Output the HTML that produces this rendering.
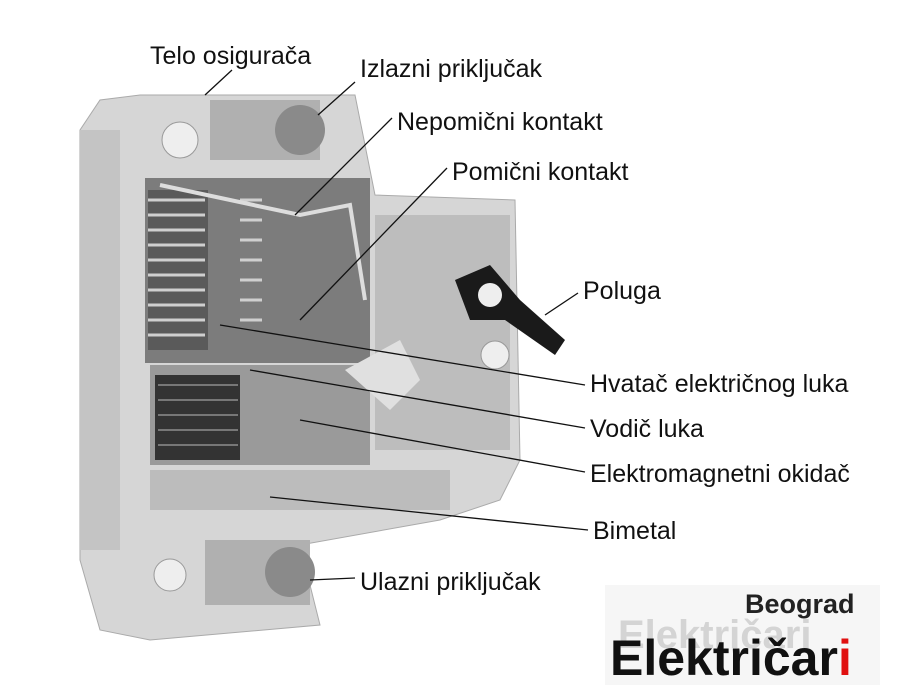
<!DOCTYPE html>
<html><head><meta charset="utf-8"><style>
body{margin:0;background:#fff;width:900px;height:700px;overflow:hidden}
svg{display:block}
text{font-family:"Liberation Sans",sans-serif;font-size:25px;fill:#111}
</style></head><body>
<svg width="900" height="700" viewBox="0 0 900 700">
<polygon points="80,130 100,100 140,95 355,95 375,195 515,200 520,460 500,500 440,520 300,545 320,625 150,640 100,630 80,560" fill="#d6d6d6" stroke="#aaa"/>
<rect x="80" y="130" width="40" height="420" fill="#c4c4c4"/>
<rect x="145" y="178" width="225" height="185" fill="#7c7c7c"/>
<rect x="148" y="190" width="60" height="160" fill="#5a5a5a"/>
<g stroke="#cfcfcf" stroke-width="3">
<line x1="148" y1="200" x2="205" y2="200"/><line x1="148" y1="215" x2="205" y2="215"/><line x1="148" y1="230" x2="205" y2="230"/><line x1="148" y1="245" x2="205" y2="245"/><line x1="148" y1="260" x2="205" y2="260"/><line x1="148" y1="275" x2="205" y2="275"/><line x1="148" y1="290" x2="205" y2="290"/><line x1="148" y1="305" x2="205" y2="305"/><line x1="148" y1="320" x2="205" y2="320"/><line x1="148" y1="335" x2="205" y2="335"/>
<line x1="240" y1="200" x2="262" y2="200"/><line x1="240" y1="220" x2="262" y2="220"/><line x1="240" y1="240" x2="262" y2="240"/><line x1="240" y1="260" x2="262" y2="260"/><line x1="240" y1="280" x2="262" y2="280"/><line x1="240" y1="300" x2="262" y2="300"/><line x1="240" y1="320" x2="262" y2="320"/>
</g>
<rect x="375" y="215" width="135" height="235" fill="#bdbdbd"/>
<rect x="150" y="365" width="220" height="100" fill="#9a9a9a"/>
<rect x="155" y="375" width="85" height="85" fill="#333"/>
<g stroke="#777" stroke-width="2"><line x1="158" y1="385" x2="238" y2="385"/><line x1="158" y1="400" x2="238" y2="400"/><line x1="158" y1="415" x2="238" y2="415"/><line x1="158" y1="430" x2="238" y2="430"/><line x1="158" y1="445" x2="238" y2="445"/></g>
<rect x="150" y="470" width="300" height="40" fill="#bcbcbc"/>
<rect x="210" y="100" width="110" height="60" fill="#b0b0b0"/><circle cx="300" cy="130" r="25" fill="#8a8a8a"/>
<rect x="205" y="540" width="105" height="65" fill="#b0b0b0"/><circle cx="290" cy="572" r="25" fill="#8a8a8a"/>
<circle cx="180" cy="140" r="18" fill="#eee" stroke="#999"/>
<circle cx="170" cy="575" r="16" fill="#eee" stroke="#999"/>
<circle cx="495" cy="355" r="14" fill="#eee" stroke="#999"/>
<polygon points="455,280 490,265 520,300 565,340 555,355 505,320 470,320" fill="#1a1a1a"/>
<circle cx="490" cy="295" r="12" fill="#eee"/>
<polyline points="160,185 300,215 350,205 365,300" fill="none" stroke="#ddd" stroke-width="4"/>
<polygon points="345,370 400,340 420,380 390,410" fill="#e0e0e0"/>
<g stroke="#111" stroke-width="1.3">
<line x1="232" y1="70" x2="205" y2="95"/>
<line x1="355" y1="82" x2="318" y2="115"/>
<line x1="392" y1="118" x2="295" y2="215"/>
<line x1="447" y1="168" x2="300" y2="320"/>
<line x1="578" y1="293" x2="545" y2="315"/>
<line x1="585" y1="385" x2="220" y2="325"/>
<line x1="585" y1="428" x2="250" y2="370"/>
<line x1="585" y1="472" x2="300" y2="420"/>
<line x1="588" y1="530" x2="270" y2="497"/>
<line x1="355" y1="578" x2="310" y2="580"/>
</g>
<text x="150" y="64">Telo osigurača</text>
<text x="360" y="77">Izlazni priključak</text>
<text x="397" y="130">Nepomični kontakt</text>
<text x="452" y="180">Pomični kontakt</text>
<text x="583" y="299">Poluga</text>
<text x="590" y="392">Hvatač električnog luka</text>
<text x="590" y="437">Vodič luka</text>
<text x="590" y="482">Elektromagnetni okidač</text>
<text x="593" y="539">Bimetal</text>
<text x="360" y="590">Ulazni priključak</text>
<rect x="605" y="585" width="275" height="100" fill="#f6f6f6"/>
<text x="745" y="613" style="font-size:27px;font-weight:bold;fill:#222">Beograd</text>
<text x="618" y="648" style="font-size:40px;font-weight:bold;fill:#d4d4d4">Električari</text>
<text x="610" y="675" style="font-size:50px;font-weight:bold;fill:#111">Električar<tspan fill="#e01010">i</tspan></text>
</svg>
</body></html>
